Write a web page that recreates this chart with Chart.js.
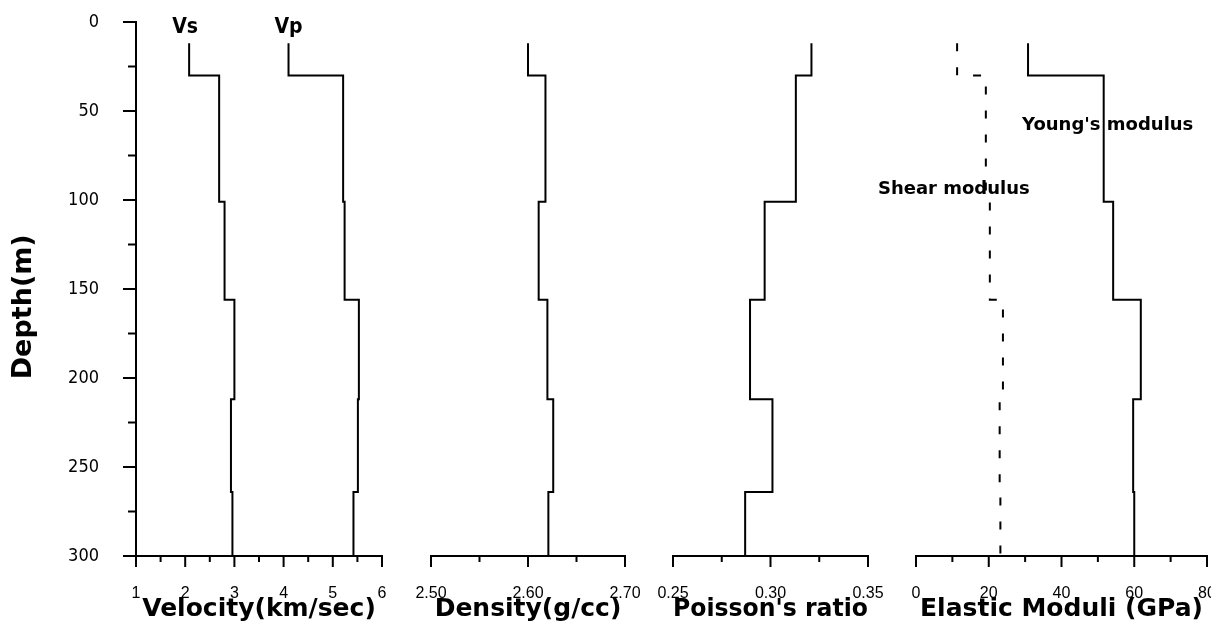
<!DOCTYPE html>
<html><head><meta charset="utf-8">
<script src="https://cdn.jsdelivr.net/npm/chart.js@4.4.0/dist/chart.umd.min.js"></script>
<style>
html,body{margin:0;padding:0;background:#fff;}
#wrap{position:relative;width:1211px;height:630px;overflow:hidden;background:#fff;}
canvas{position:absolute;left:0;top:0;}
</style></head><body>
<div id="wrap">
<canvas id="cVel" width="1211" height="630"></canvas>
<canvas id="cDen" width="1211" height="630"></canvas>
<canvas id="cPoi" width="1211" height="630"></canvas>
<canvas id="cMod" width="1211" height="630"></canvas>
</div>
<script>
// ---- data ----
const layerBoundaries = [12, 30, 101, 156, 212, 264, 300];   // depth (m)
const vsValues      = [2.08, 2.69, 2.80, 3.00, 2.93, 2.96];  // km/sec
const vpValues      = [4.10, 5.21, 5.24, 5.53, 5.51, 5.42];  // km/sec
const densityValues = [2.600, 2.618, 2.611, 2.620, 2.626, 2.621]; // g/cc
const poissonValues = [0.321, 0.313, 0.297, 0.2895, 0.301, 0.287];
const youngValues   = [30.8, 51.6, 54.2, 61.8, 59.7, 60.0]; // GPa
const shearValues   = [11.3, 19.2, 20.3, 23.9, 23.0, 23.2]; // GPa

const depthTicks    = [0, 50, 100, 150, 200, 250, 300];
const depthMinor    = [25, 75, 125, 175, 225, 275];
const velTicks      = [1, 2, 3, 4, 5, 6];
const velMinor      = [1.5, 2.5, 3.5, 4.5, 5.5];
const denTicks      = [2.50, 2.60, 2.70];
const denTickLabels = ['2.50', '2.60', '2.70'];
const denMinor      = [2.55, 2.65];
const poiTicks      = [0.25, 0.30, 0.35];
const poiTickLabels = ['0.25', '0.30', '0.35'];
const poiMinor      = [0.275, 0.325];
const modTicks      = [0, 20, 40, 60, 80];
const modMinor      = [10, 30, 50, 70];

function stepPoints(vals) {
  const pts = [];
  vals.forEach((v, i) => {
    pts.push({x: v, y: layerBoundaries[i]});
    pts.push({x: v, y: layerBoundaries[i + 1]});
  });
  return pts;
}

const tickPlugin = {
  id: 'tickMarks',
  afterDraw(chart, args, opts) {
    const ctx = chart.ctx;
    const xs = chart.scales.x, ys = chart.scales.y;
    const ca = chart.chartArea;
    ctx.save();
    ctx.strokeStyle = '#000';
    ctx.lineWidth = 2;
    ctx.beginPath();
    (opts.xMajor || []).forEach(v => { const p = xs.getPixelForValue(v); ctx.moveTo(p, ca.bottom); ctx.lineTo(p, ca.bottom + 11); });
    (opts.xMinor || []).forEach(v => { const p = xs.getPixelForValue(v); ctx.moveTo(p, ca.bottom); ctx.lineTo(p, ca.bottom + 6); });
    if (opts.yAxis) {
      depthTicks.forEach(v => { const p = ys.getPixelForValue(v); ctx.moveTo(ca.left, p); ctx.lineTo(ca.left - 13, p); });
      depthMinor.forEach(v => { const p = ys.getPixelForValue(v); ctx.moveTo(ca.left, p); ctx.lineTo(ca.left - 8, p); });
    }
    ctx.stroke();
    ctx.fillStyle = '#000';
    ctx.textAlign = 'center';
    ctx.textBaseline = 'middle';
    if (opts.yTitle) {
      ctx.save();
      ctx.font = "bold 27px 'DejaVu Sans', sans-serif";
      ctx.translate(24, ys.getPixelForValue(160));
      ctx.rotate(-Math.PI / 2);
      ctx.fillText(opts.yTitle, 0, 0);
      ctx.restore();
    }
    (opts.labels || []).forEach(l => {
      ctx.font = l.font;
      const x = xs.getPixelForValue(l.xv) + l.dx;
      const y = ys.getPixelForValue(l.yv);
      ctx.fillText(l.text, x, y);
    });
    ctx.restore();
  }
};

function makeChart(id, o) {
  return new Chart(document.getElementById(id), {
    type: 'scatter',
    data: { datasets: o.datasets.map(d => ({
      data: d.data, showLine: true, borderColor: '#000', borderWidth: 2,
      pointRadius: 0, borderDash: d.dash || [], tension: 0, fill: false, clip: 4
    })) },
    options: {
      responsive: false, animation: false, devicePixelRatio: 1,
      layout: { padding: { left: o.padL, right: o.padR, top: 22, bottom: 0 } },
      plugins: { legend: { display: false }, tooltip: { enabled: false },
        tickMarks: { xMajor: o.xTicks, xMinor: o.xMinor, yAxis: o.showY,
          yTitle: o.showY ? 'Depth(m)' : null, labels: o.labels } },
      scales: {
        x: {
          type: 'linear', min: o.xMin, max: o.xMax,
          afterBuildTicks: s => { s.ticks = o.xTicks.map(v => ({value: v})); },
          afterFit: s => { s.height = 74; s.paddingLeft = 0; s.paddingRight = 0; },
          grid: { display: false },
          border: { display: true, color: '#000', width: 2 },
          ticks: { color: '#000', padding: 20, maxRotation: 0, autoSkip: false,
            font: { family: "'Liberation Sans', Arial, sans-serif", size: 16 },
            callback: (v, i) => o.xLabels ? o.xLabels[i] : String(v) },
          title: { display: true, text: o.title, color: '#000',
            font: { family: "'DejaVu Sans', sans-serif", weight: 'bold', size: 25, lineHeight: 1 },
            padding: { top: 0, bottom: 8 } }
        },
        y: {
          type: 'linear', reverse: true, min: 0, max: 300, display: o.showY,
          afterBuildTicks: s => { s.ticks = depthTicks.map(v => ({value: v})); },
          afterFit: s => { if (o.showY) { s.width = 136; } s.paddingTop = 0; s.paddingBottom = 0; },
          grid: { display: false },
          border: { display: true, color: '#000', width: 2 },
          ticks: { color: '#000', padding: 29,
            font: { family: "'Liberation Sans Narrow', 'DejaVu Sans Condensed', sans-serif", size: 18 } }
        }
      }
    },
    plugins: [tickPlugin]
  });
}

const narrowBold = "bold 21px 'Liberation Sans Narrow', 'DejaVu Sans Condensed', sans-serif";
const labelBold = "bold 18px 'DejaVu Sans', sans-serif";

makeChart('cVel', {
  xMin: 1, xMax: 6, xTicks: velTicks, xMinor: velMinor, title: 'Velocity(km/sec)',
  padL: 0, padR: 1211 - 382, showY: true,
  datasets: [{data: stepPoints(vsValues)}, {data: stepPoints(vpValues)}],
  labels: [
    {text: 'Vs', xv: vsValues[0], dx: -4, yv: 3, font: narrowBold},
    {text: 'Vp', xv: vpValues[0], dx: 0, yv: 3, font: narrowBold}
  ]
});
makeChart('cDen', {
  xMin: 2.5, xMax: 2.7, xTicks: denTicks, xLabels: denTickLabels, xMinor: denMinor, title: 'Density(g/cc)',
  padL: 431, padR: 1211 - 625, showY: false,
  datasets: [{data: stepPoints(densityValues)}]
});
makeChart('cPoi', {
  xMin: 0.25, xMax: 0.35, xTicks: poiTicks, xLabels: poiTickLabels, xMinor: poiMinor, title: "Poisson's ratio",
  padL: 673, padR: 1211 - 868, showY: false,
  datasets: [{data: stepPoints(poissonValues)}]
});
makeChart('cMod', {
  xMin: 0, xMax: 80, xTicks: modTicks, xMinor: modMinor, title: 'Elastic Moduli (GPa)',
  padL: 916, padR: 4, showY: false,
  datasets: [{data: stepPoints(youngValues)}, {data: stepPoints(shearValues), dash: [8, 16]}],
  labels: [
    {text: "Young's modulus", xv: youngValues[1], dx: 4, yv: 58, font: labelBold},
    {text: 'Shear modulus', xv: shearValues[1], dx: -32, yv: 94, font: labelBold}
  ]
});
</script>
</body></html>
